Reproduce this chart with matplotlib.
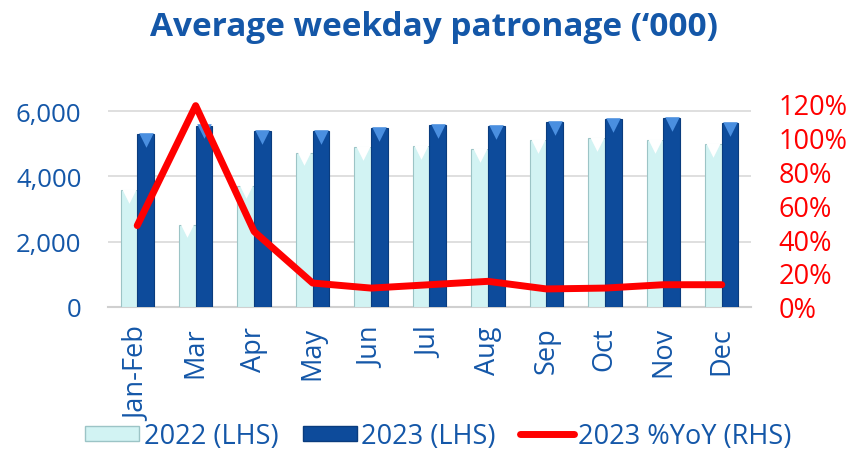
import matplotlib.pyplot as plt
from matplotlib.patches import Patch
from matplotlib.lines import Line2D
import numpy as np

plt.rcParams['font.family'] = ['Open Sans', 'DejaVu Sans']

meses = ["Jan-Feb", "Mar", "Apr", "May", "Jun", "Jul", "Aug", "Sep", "Oct", "Nov", "Dec"]
pat_2022 = [3570, 2520, 3720, 4730, 4890, 4920, 4850, 5120, 5180, 5110, 4990]
pat_2023 = [5310, 5560, 5390, 5390, 5490, 5580, 5540, 5680, 5770, 5790, 5650]
yoy_2023 = [0.48, 1.19, 0.445, 0.14, 0.11, 0.13, 0.15, 0.105, 0.11, 0.13, 0.13]

azul_txt = "#1457A8"
claro = "#D2F3F3"
escuro = "#0D4B9B"
vermelho = "#FF0000"

fig = plt.figure(figsize=(8.51, 4.52), dpi=100)
ax = fig.add_axes([0.1269, 0.3193, 0.7556, 0.4485])
ax2 = ax.twinx()

x = np.arange(len(meses))
w = 0.285
ax.bar(x - w / 2, pat_2022, w, color=claro, edgecolor="#9CC4C6", linewidth=0.8, zorder=3)
ax.bar(x + w / 2, pat_2023, w, color=escuro, edgecolor="#0A3C7E", linewidth=0.8, zorder=3)

# bisel no topo das barras
ax.scatter(x - w / 2, np.array(pat_2022) - 180, marker="v", s=110, color="white", zorder=4, linewidths=0)
ax.scatter(x + w / 2, np.array(pat_2023) - 180, marker="v", s=110, color="#4A8FE0", zorder=4, linewidths=0)

ax.set_xlim(-0.5, 10.5)
ax.set_ylim(0, 6000 * 202.7 / 195.4)
ax.set_yticks([0, 2000, 4000, 6000])
ax.set_yticklabels(["0", "2,000", "4,000", "6,000"])
ax.grid(axis="y", color="#D9D9D9", linewidth=1.2, zorder=0)
ax.set_axisbelow(True)
for s in ["top", "right", "left"]:
    ax.spines[s].set_visible(False)
ax.spines["bottom"].set_color("#D0D0D0")
ax.spines["bottom"].set_linewidth(1.5)
ax.tick_params(axis="y", length=0, labelsize=18.5, labelcolor=azul_txt, pad=19)
ax.set_xticks(x)
ax.set_xticklabels(meses, rotation=90)
ax.tick_params(axis="x", length=0, labelsize=19.5, labelcolor=azul_txt, pad=14)

ax2.plot(x, yoy_2023, color=vermelho, linewidth=5, solid_capstyle="round", clip_on=False, zorder=5)
ax2.set_ylim(0, 1.2)
ax2.set_yticks([0, 0.2, 0.4, 0.6, 0.8, 1.0, 1.2])
ax2.set_yticklabels(["0%", "20%", "40%", "60%", "80%", "100%", "120%"])
ax2.tick_params(axis="y", length=0, labelsize=19.5, labelcolor=vermelho, pad=20)
for s in ["top", "right", "left", "bottom"]:
    ax2.spines[s].set_visible(False)

fig.text(0.51, 0.94, "Average weekday patronage (\u2018000)", ha="center", va="center",
         fontsize=24, fontweight="bold", color=azul_txt)

handles = [Patch(facecolor=claro, edgecolor="#9CC4C6"),
           Patch(facecolor=escuro, edgecolor="#0A3C7E"),
           Line2D([0], [0], color=vermelho, linewidth=5, solid_capstyle="round")]
labels = ["2022 (LHS)", "2023 (LHS)", "2023 %YoY (RHS)"]
fig.legend(handles, labels, loc="center", bbox_to_anchor=(0.515, 0.033), ncol=3, frameon=False,
           fontsize=19.5, labelcolor=azul_txt, handlelength=2.0, handleheight=0.5,
           handletextpad=0.15, columnspacing=0.9)

plt.savefig("out.png", dpi=100)
